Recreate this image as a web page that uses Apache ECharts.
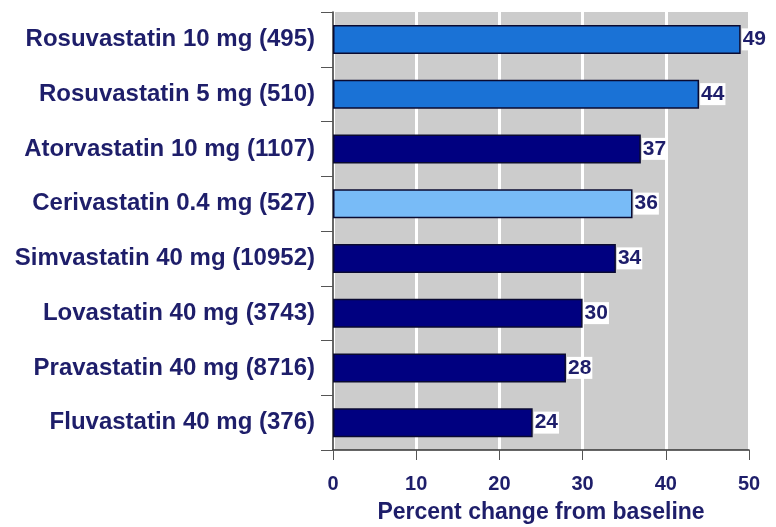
<!DOCTYPE html>
<html>
<head>
<meta charset="utf-8">
<script src="https://cdn.jsdelivr.net/npm/echarts@6/dist/echarts.min.js"></script>
<style>
  html, body { margin: 0; padding: 0; background: #ffffff; }
  #chart { width: 776px; height: 527px; }
</style>
</head>
<body>
<div id="chart"></div>
<script>
// Statin treatment groups (n in parentheses), top to bottom
const categories = [
  'Rosuvastatin 10 mg (495)',
  'Rosuvastatin 5 mg (510)',
  'Atorvastatin 10 mg (1107)',
  'Cerivastatin 0.4 mg (527)',
  'Simvastatin 40 mg (10952)',
  'Lovastatin 40 mg (3743)',
  'Pravastatin 40 mg (8716)',
  'Fluvastatin 40 mg (376)'
];
// Mean percent change from baseline
const values = [49, 44, 37, 36, 34, 30, 28, 24];
// Colour group per bar: rosuvastatin, cerivastatin, other statins
const groups = ['rosu', 'rosu', 'other', 'ceri', 'other', 'other', 'other', 'other'];
const xTicks = [0, 10, 20, 30, 40, 50];

const groupColors = { rosu: '#1a72d6', ceri: '#78bbf7', other: '#000080' };
const textColor = '#1e1e6a';
const font = 'Liberation Sans, Arial, sans-serif';

const chart = echarts.init(document.getElementById('chart'), null, { renderer: 'canvas' });

// category axis runs bottom-up, so reverse to list the first entry on top
const cats = categories.slice().reverse();
const data = values.slice().reverse().map((v, i) => {
  const g = groups[groups.length - 1 - i];
  return { value: v, itemStyle: { color: groupColors[g] } };
});

chart.setOption({
  animation: false,
  backgroundColor: '#ffffff',
  grid: {
    left: 333, right: 27, top: 12, bottom: 77,
    outerBoundsMode: 'none', containLabel: false,
    show: true, backgroundColor: '#cccccc', borderWidth: 0
  },
  xAxis: {
    type: 'value',
    min: xTicks[0], max: xTicks[xTicks.length - 1], interval: 10,
    name: 'Percent change from baseline',
    nameLocation: 'middle', nameGap: 51,
    nameTextStyle: { color: textColor, fontSize: 23, fontWeight: 'bold', fontFamily: font },
    axisLine: { show: true, lineStyle: { color: '#333333', width: 1.5 } },
    axisTick: { show: true, length: 10, lineStyle: { color: '#555555' } },
    axisLabel: { color: textColor, fontSize: 20, fontWeight: 'bold', margin: 24, fontFamily: font },
    splitLine: { show: true, lineStyle: { color: '#ffffff', width: 3 } }
  },
  yAxis: {
    type: 'category',
    data: cats,
    axisLine: { show: true, lineStyle: { color: '#333333', width: 1.5 } },
    axisTick: { show: true, length: 12, lineStyle: { color: '#555555' } },
    axisLabel: { color: textColor, fontSize: 24, fontWeight: 'bold', margin: 18, fontFamily: font },
    splitLine: { show: false }
  },
  series: [{
    type: 'bar',
    data: data,
    barWidth: 29,
    itemStyle: { borderColor: '#0a0a30', borderWidth: 1.5 },
    label: {
      show: true, position: 'right', distance: 1,
      color: textColor, fontSize: 21, fontWeight: 'bold',
      fontFamily: font,
      backgroundColor: '#ffffff', padding: [1, 1, 0, 1]
    }
  }]
});
</script>
</body>
</html>
